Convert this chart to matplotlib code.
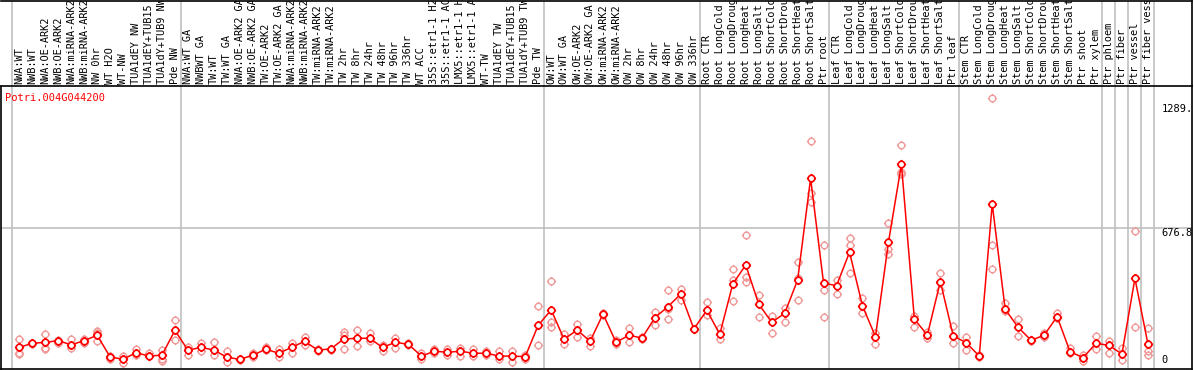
import matplotlib
matplotlib.use("Agg")
import matplotlib.pyplot as plt
from matplotlib.path import Path

gene = "Potri.004G044200"

samples = [
    "NWA:WT", "NWB:WT", "NWA:OE-ARK2", "NWB:OE-ARK2", "NWA:miRNA-ARK2", "NWB:miRNA-ARK2",
    "NW 0hr", "WT H2O", "WT-NW", "TUA1dEY NW", "TUA1dEY+TUB15 NW", "TUA1dY+TUB9 NW", "Pde NW",
    "NWA:WT GA", "NWBWT GA", "TW:WT", "TW:WT GA", "NWA:OE-ARK2 GA", "NWB:OE-ARK2 GA",
    "TW:OE-ARK2", "TW:OE-ARK2 GA", "NWA:miRNA-ARK2", "NWB:miRNA-ARK2", "TW:miRNA-ARK2",
    "TW:miRNA-ARK2", "TW 2hr", "TW 8hr", "TW 24hr", "TW 48hr", "TW 96hr", "TW 336hr", "WT ACC",
    "35S::etr1-1 H2O", "35S::etr1-1 ACC", "LMX5::etr1-1 H2O", "LMX5::etr1-1 ACC", "WT-TW",
    "TUA1dEY TW", "TUA1dEY+TUB15 TW", "TUA1dY+TUB9 TW", "Pde TW",
    "OW:WT", "OW:WT GA", "OW:OE-ARK2", "OW:OE-ARK2 GA", "OW:miRNA-ARK2", "OW:miRNA-ARK2",
    "OW 2hr", "OW 8hr", "OW 24hr", "OW 48hr", "OW 96hr", "OW 336hr",
    "Root CTR", "Root LongCold", "Root LongDrought", "Root LongHeat", "Root LongSalt",
    "Root ShortCold", "Root ShortDrought", "Root ShortHeat", "Root ShortSalt", "Ptr root",
    "Leaf CTR", "Leaf LongCold", "Leaf LongDrought", "Leaf LongHeat", "Leaf LongSalt",
    "Leaf ShortCold", "Leaf ShortDrought", "Leaf ShortHeat", "Leaf ShortSalt", "Ptr leaf",
    "Stem CTR", "Stem LongCold", "Stem LongDrought", "Stem LongHeat", "Stem LongSalt",
    "Stem ShortCold", "Stem ShortDrought", "Stem ShortHeat", "Stem ShortSalt", "Ptr shoot",
    "Ptr xylem", "Ptr phloem", "Ptr fiber", "Ptr vessel", "Ptr fiber vessel",
]

means = [
    87, 107, 112, 120, 100, 120, 147, 40, 28, 61, 44, 49, 171,
    73, 87, 74, 38, 28, 48, 78, 58, 87, 117, 74, 79, 128, 132, 132, 87, 112, 102, 44,
    68, 63, 68, 58, 58, 44, 44, 41, 196,
    272, 127, 173, 117, 252, 112, 147, 133, 234, 288, 351, 178,
    270, 152, 400, 494, 301, 211, 255, 420, 922, 404,
    392, 557, 292, 140, 606, 991, 226, 148, 412, 143,
    110, 44, 795, 275, 186, 122, 147, 239, 66, 36,
    107, 97, 54, 428, 104,
]

replicates = [
    [128, 61, 54], [110, 103], [152, 84, 80], [125, 110], [128, 84], [130, 110],
    [170, 158, 120], [42, 32], [42, 10], [81, 47], [61, 42], [74, 32, 20], [222, 124],
    [91, 50], [110, 70], [114, 50], [67, 14], [30, 25], [61, 40], [91, 75], [81, 40],
    [110, 61], [140, 100], [81, 70], [81, 76], [165, 150, 78], [173, 95], [160, 117],
    [98, 70], [135, 84], [107, 98], [61, 28], [81, 60], [78, 50], [86, 44], [81, 44],
    [67, 50], [70, 28], [67, 16], [50, 30], [290, 97],
    [415, 214, 186], [152, 104], [201, 140], [135, 95], [255, 248], [124, 105],
    [181, 112], [140, 128], [262, 199], [369, 226, 275], [375, 321], [180, 176],
    [311, 247], [184, 127], [473, 420, 316], [642, 436, 412], [346, 239], [242, 157],
    [280, 214], [507, 430, 321], [1107, 848, 807], [593, 371, 239],
    [420, 351], [629, 593, 453], [329, 255], [160, 104], [701, 572, 547],
    [1085, 955, 945], [240, 189], [165, 135], [453, 371], [193, 110],
    [140, 74], [48, 40], [1318, 593, 473], [308, 265], [226, 143], [125, 118],
    [160, 140], [258, 230], [82, 58], [50, 22],
    [143, 78], [120, 61], [82, 25], [660, 189], [181, 70, 49],
]

# first sample index of each group (plus the end)
group_starts = [0, 13, 41, 53, 63, 73, 84, 85, 86, 87, 88]
ref_ticks = [1289, 676.8, 0]
ref_labels = ["1289.", "676.8", "0"]

red = "#ff0000"
pink = "#f09a9a"
grey = "#c0c0c0"
mono = "DejaVu Sans Mono"

# circle marker with small ticks sticking out
circ = Path.unit_circle()
ticks = Path([(0, 1), (0, 1.4), (0, -1), (0, -1.4), (1, 0), (1.4, 0), (-1, 0), (-1.4, 0)],
             [Path.MOVETO, Path.LINETO] * 4)
mk = Path.make_compound_path(circ, ticks)

W, H = 1194, 370
fig = plt.figure(figsize=(W / 100, H / 100), dpi=100)

xlim = (-1.41, 90.4)
ax = fig.add_axes([1 / W, 1 / H, 1191 / W, 283 / H])
lab = fig.add_axes([1 / W, 284 / H, 1191 / W, 85 / H])

x = list(range(len(samples)))

for a in (ax, lab):
    a.set_xlim(*xlim)
    a.set_xticks([])
    a.set_yticks([])
    for b in group_starts:
        a.axvline(b - 0.55, color=grey, lw=1.2, zorder=0)
    for s in a.spines.values():
        s.set_linewidth(1.2)
lab.spines["left"].set_visible(False)
ax.spines["top"].set_visible(False)

ax.set_ylim(-19.8, 1378)
ax.axhline(676.8, color=grey, lw=1.2, zorder=0)

for i, reps in enumerate(replicates):
    ax.plot([i] * len(reps), reps, linestyle="none", marker=mk, ms=6.6,
            mfc="none", mec=pink, mew=1.0, zorder=2)

ax.plot(x, means, color=red, lw=1.1, zorder=3)
ax.plot(x, means, linestyle="none", marker=mk, ms=6.6, mfc="white", mec=red,
        mew=1.2, zorder=4)

ax.text(0.003, 0.975, gene, transform=ax.transAxes, color=red, family=mono,
        fontsize=7.5, ha="left", va="top")

for t, l in zip(ref_ticks, ref_labels):
    va = "bottom" if t == 0 else "top"
    ax.text(0.9745, t, l, transform=ax.get_yaxis_transform(),
            family=mono, fontsize=7.5, ha="left", va=va)

lab.set_ylim(0, 1)
for i, s in enumerate(samples):
    lab.text(i, 0.02, s, rotation=90, ha="center", va="bottom", family=mono,
             fontsize=7.4, clip_on=True)

fig.savefig("out.png", dpi=100)
